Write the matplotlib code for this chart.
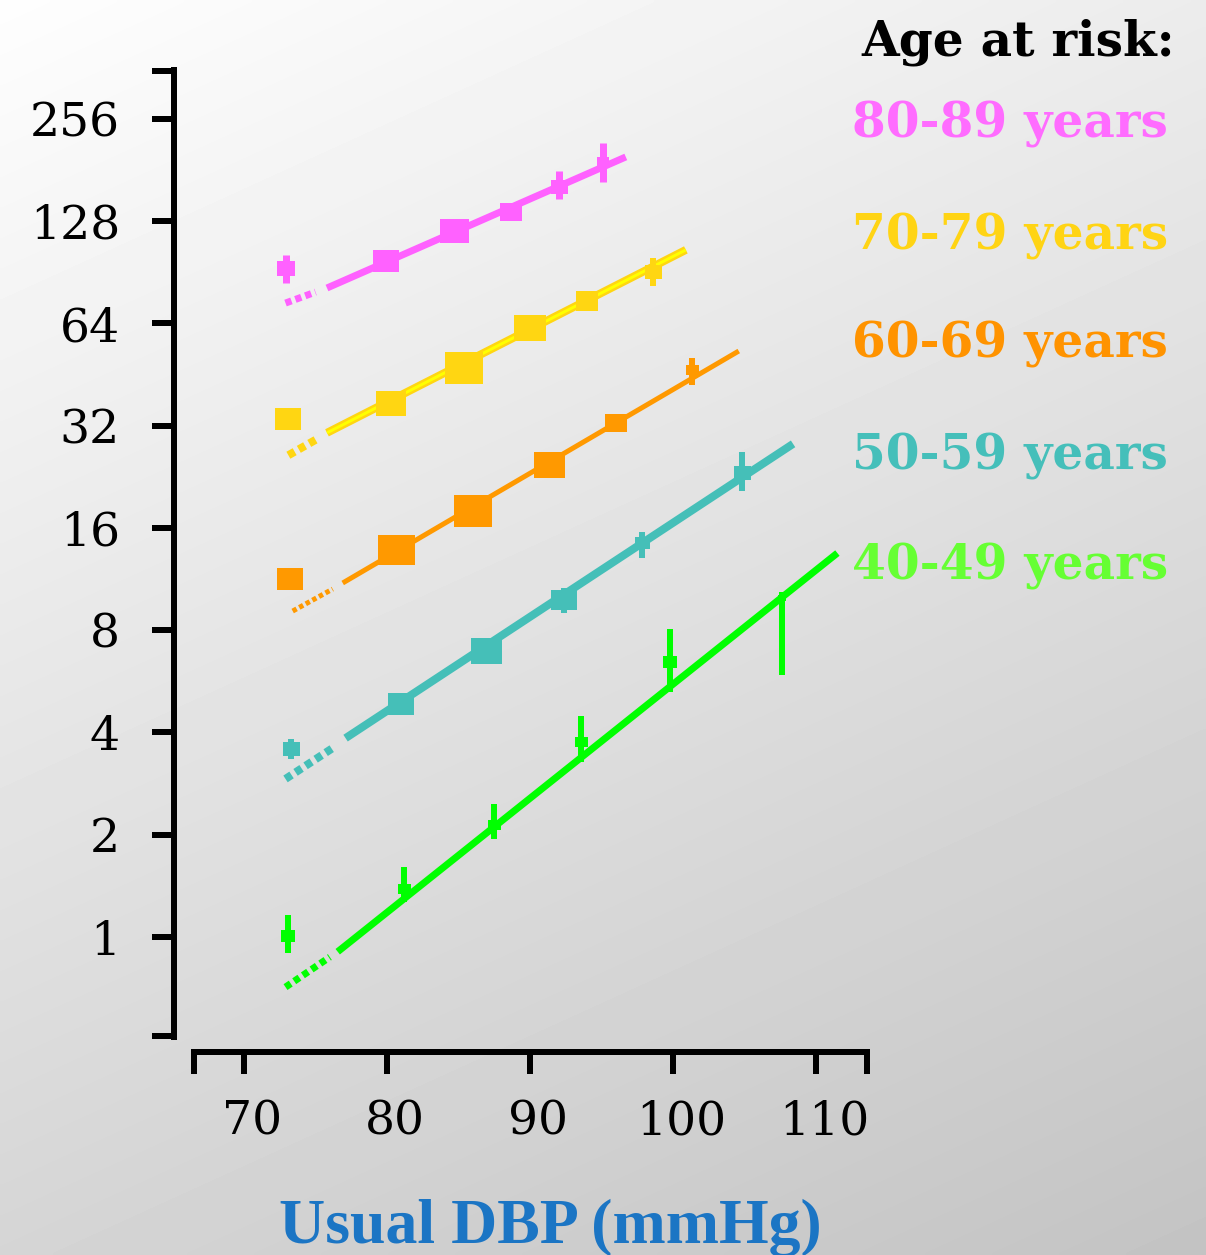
import numpy as np
import matplotlib
matplotlib.use("Agg")
import matplotlib.pyplot as plt
import matplotlib.transforms as mtransforms
from matplotlib.ticker import FixedLocator, FixedFormatter, NullFormatter

# ---------------- data ----------------
groups = ["80-89 years", "70-79 years", "60-69 years", "50-59 years", "40-49 years"]
legend_title = "Age at risk:"
x_label = "Usual DBP (mmHg)"
x_ticks = [70, 80, 90, 100, 110]
y_ticks = [1, 2, 4, 8, 16, 32, 64, 128, 256]
y_tick_labels = ["1", "2", "4", "8", "16", "32", "64", "128", "256"]

# usual DBP of each group (first value = lowest, reference category)
dbp_8089 = [72.9, 79.9, 84.7, 88.7, 92.0, 95.1]
dbp_7079 = [73.1, 80.3, 85.4, 90.0, 94.0, 98.6]
dbp_6069 = [73.2, 80.6, 86.0, 91.3, 96.0, 101.3]
dbp_5059 = [73.3, 81.0, 86.9, 92.4, 97.8, 104.8]
dbp_4049 = [73.1, 81.2, 87.5, 93.6, 99.8, 107.6]

# floated hazard ratios
hr_8089 = [93.2, 97.8, 119.8, 136.3, 161.4, 191.3]
hr_7079 = [33.5, 37.3, 47.3, 62.1, 74.5, 90.7]
hr_6069 = [11.3, 13.8, 18.0, 24.5, 32.6, 46.7]
hr_5059 = [3.58, 4.85, 6.95, 9.82, 14.45, 23.2]
hr_4049 = [1.01, 1.38, 2.14, 3.75, 6.45, 9.95]

# 95% CI
lo_8089 = [84.2, 97.8, 119.8, 136.3, 148.9, 166.5]
hi_8089 = [101.8, 97.8, 119.8, 136.3, 180.0, 217.5]
lo_7079 = [33.5, 37.3, 47.3, 62.1, 74.5, 82.5]
hi_7079 = [33.5, 37.3, 47.3, 62.1, 74.5, 99.8]
lo_6069 = [11.3, 13.8, 18.0, 24.5, 32.6, 42.2]
hi_6069 = [11.3, 13.8, 18.0, 24.5, 32.6, 50.7]
lo_5059 = [3.34, 4.85, 6.95, 8.99, 13.06, 20.6]
hi_5059 = [3.83, 4.85, 6.95, 10.65, 15.58, 26.8]
lo_4049 = [0.898, 1.268, 1.94, 3.27, 5.26, 5.91]
hi_4049 = [1.161, 1.607, 2.46, 4.47, 8.07, 10.37]

# fitted regression lines: solid part (start, end) and extrapolated dotted part
fit_solid_x_8089 = [75.8, 96.7]
fit_solid_y_8089 = [81.4, 197.9]
fit_dot_x_8089 = [72.9, 75.0]
fit_dot_y_8089 = [73.5, 79.2]
fit_solid_x_7079 = [75.8, 100.9]
fit_solid_y_7079 = [30.5, 105.4]
fit_dot_x_7079 = [73.1, 75.2]
fit_dot_y_7079 = [26.2, 29.4]
fit_solid_x_6069 = [76.9, 104.6]
fit_solid_y_6069 = [11.02, 53.1]
fit_dot_x_6069 = [73.4, 76.2]
fit_dot_y_6069 = [9.11, 10.58]
fit_solid_x_5059 = [77.1, 108.4]
fit_solid_y_5059 = [3.85, 28.3]
fit_dot_x_5059 = [72.9, 76.2]
fit_dot_y_5059 = [2.92, 3.60]
fit_solid_x_4049 = [76.55, 111.5]
fit_solid_y_4049 = [0.905, 13.5]
fit_dot_x_4049 = [72.9, 76.0]
fit_dot_y_4049 = [0.712, 0.873]

# ---------------- styles ----------------
W, H, DPI = 1206, 1255, 100
colors = ["#FF61FF", "#FFD612", "#FF9900", "#45BFB8", "#00FF00"]
legend_colors = ["#FF6CFF", "#FFD414", "#FF9300", "#45BFBA", "#66FF33"]
marker_px = [[18, 27, 29, 22, 17, 12],
             [26, 30, 38, 32, 23, 17],
             [27, 37, 38, 31, 22, 13],
             [17, 27, 31, 25, 15, 17],
             [14, 13, 13, 13, 14, 8]]
line_px = [7, 8, 5, 8, 7]
ci_px = [7, 6, 6, 6, 6]

data = [
    (dbp_8089, hr_8089, lo_8089, hi_8089, fit_solid_x_8089, fit_solid_y_8089, fit_dot_x_8089, fit_dot_y_8089),
    (dbp_7079, hr_7079, lo_7079, hi_7079, fit_solid_x_7079, fit_solid_y_7079, fit_dot_x_7079, fit_dot_y_7079),
    (dbp_6069, hr_6069, lo_6069, hi_6069, fit_solid_x_6069, fit_solid_y_6069, fit_dot_x_6069, fit_dot_y_6069),
    (dbp_5059, hr_5059, lo_5059, hi_5059, fit_solid_x_5059, fit_solid_y_5059, fit_dot_x_5059, fit_dot_y_5059),
    (dbp_4049, hr_4049, lo_4049, hi_4049, fit_solid_x_4049, fit_solid_y_4049, fit_dot_x_4049, fit_dot_y_4049),
]

PT = 72.0 / DPI  # points per pixel
plt.rcParams["font.family"] = ["DejaVu Serif"]

fig = plt.figure(figsize=(W / DPI, H / DPI), dpi=DPI)

# background gradient
bg = fig.add_axes([0, 0, 1, 1], zorder=-10)
yy, xx = np.mgrid[0:1:300j, 0:1:300j]
grad = 0.995 - 0.16 * yy - 0.07 * xx
bg.imshow(grad, cmap="gray", vmin=0, vmax=1, aspect="auto",
          extent=[0, 1, 0, 1], origin="upper", interpolation="bilinear")
bg.axis("off")

# main axes
ax = fig.add_axes([174 / W, 1 - 1037 / H, (868 - 174) / W, (1037 - 70) / H])
ax.patch.set_alpha(0)
ax.set_xlim(65.10, 113.64)
ax.set_yscale("log", base=2)
ax.set_ylim(2 ** -0.978, 2 ** 8.479)

for s in ["top", "right"]:
    ax.spines[s].set_visible(False)
axw = 6 * PT
ax.spines["left"].set_linewidth(axw)
ax.spines["bottom"].set_linewidth(axw)
ax.spines["left"].set_capstyle("projecting")
ax.spines["bottom"].set_capstyle("projecting")
ax.spines["bottom"].set_position(("outward", 15 * PT))
ax.spines["bottom"].set_bounds(66.5, 113.6)

ax.xaxis.set_major_locator(FixedLocator(x_ticks))
ax.xaxis.set_minor_locator(FixedLocator([66.52, 113.58]))
ax.xaxis.set_minor_formatter(NullFormatter())
ax.yaxis.set_major_locator(FixedLocator(y_ticks))
ax.yaxis.set_major_formatter(FixedFormatter(y_tick_labels))
ax.yaxis.set_minor_locator(FixedLocator([2 ** -0.97, 2 ** 8.47]))
ax.yaxis.set_minor_formatter(NullFormatter())
ax.tick_params(axis="both", which="both", direction="out", width=axw,
               length=22 * PT, color="black", labelsize=34)
ax.tick_params(axis="y", which="major", pad=23)
ax.tick_params(axis="x", which="major", pad=18)

off = mtransforms.ScaledTranslation(8 / DPI, 0, fig.dpi_scale_trans)
for lab in ax.get_xticklabels():
    lab.set_transform(lab.get_transform() + off)

rect = [(-0.6, -0.5), (0.6, -0.5), (0.6, 0.5), (-0.6, 0.5), (-0.6, -0.5)]

for gi, (xs, ys, lo, hi, sx, sy, dx, dy) in enumerate(data):
    c = colors[gi]
    lw = line_px[gi] * PT
    ax.plot(dx, dy, color=c, lw=lw, ls=(0, (0.9, 0.6)), solid_capstyle="butt",
            dash_capstyle="butt", clip_on=False, zorder=3)
    ax.plot(sx, sy, color=c, lw=lw, solid_capstyle="butt", clip_on=False, zorder=3)
    if gi == 1:
        ax.plot(sx, sy, color="#FFFF00", lw=3 * PT, solid_capstyle="butt",
                clip_on=False, zorder=3.5)
    for xi, yi, l, h, m in zip(xs, ys, lo, hi, marker_px[gi]):
        if h > l:
            ax.plot([xi, xi], [l, h], color=c, lw=ci_px[gi] * PT,
                    solid_capstyle="butt", clip_on=False, zorder=4)
        ax.plot([xi], [yi], ls="none", marker=rect, markersize=m * PT,
                markerfacecolor=c, markeredgewidth=0, clip_on=False, zorder=5)

# legend text
def fx(px):
    return px / W

def fy(py):
    return 1 - py / H

fig.text(fx(1175), fy(55), legend_title, ha="right", va="baseline",
         fontsize=35, fontweight="bold", color="black")
leg_base = [138, 250, 358, 469, 580]
for g, col, b in zip(groups, legend_colors, leg_base):
    fig.text(fx(852), fy(b), g, ha="left", va="baseline", fontsize=35,
             fontweight="bold", color=col)

fig.text(fx(550), fy(1243), x_label, ha="center", va="baseline", fontsize=46,
         fontweight="bold", color="#1B75C4", family=["Liberation Serif"])

fig.savefig("out.png", dpi=DPI)
